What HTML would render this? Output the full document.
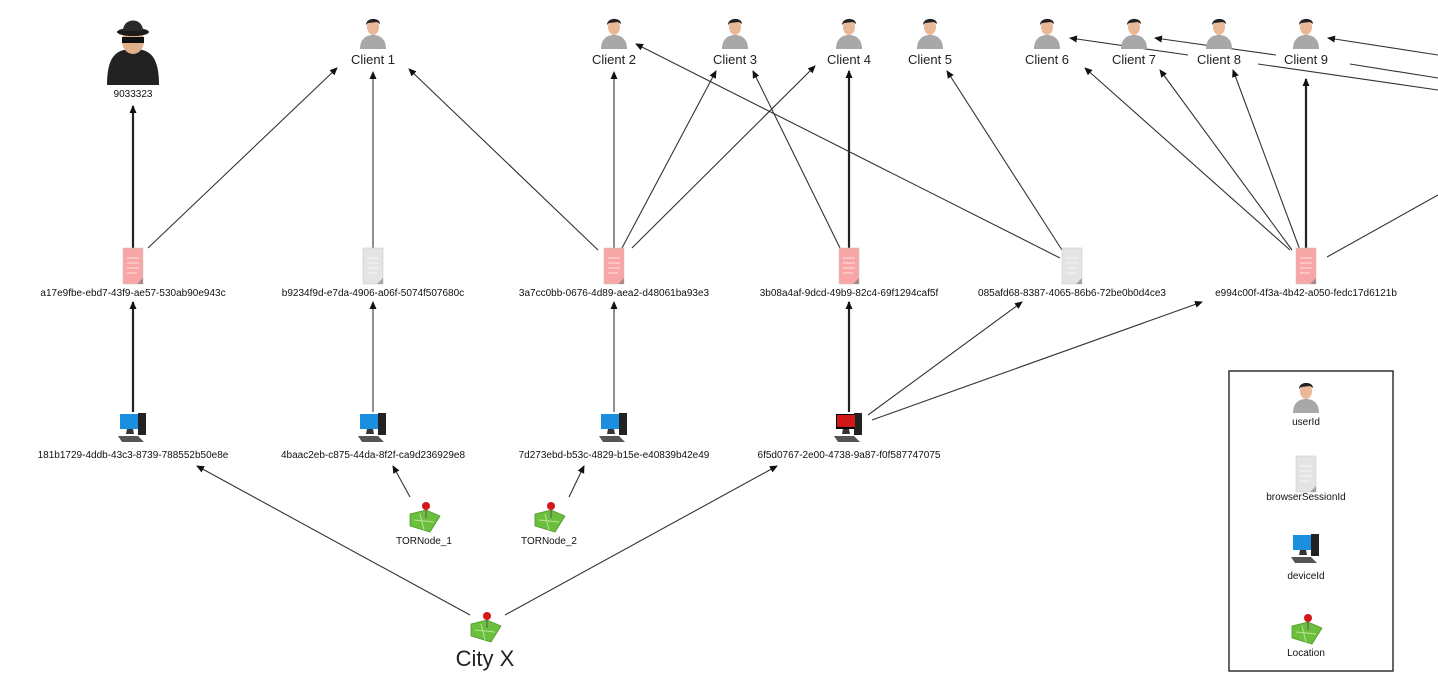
<!DOCTYPE html>
<html><head><meta charset="utf-8"><style>
html,body{margin:0;padding:0;background:#fff;}
svg{display:block;font-family:"Liberation Sans",sans-serif;}
.c{font-size:13px;fill:#222;text-anchor:middle;}
.s{font-size:10px;fill:#111;text-anchor:middle;}
.e{stroke:#333;stroke-width:1.1;fill:none;marker-end:url(#a);}
.t{stroke:#222;stroke-width:2.2;fill:none;marker-end:url(#a);}
.n{stroke:#333;stroke-width:1.1;fill:none;}
</style></head><body>
<svg width="1438" height="695" viewBox="0 0 1438 695">
<defs>
<marker id="a" markerWidth="8" markerHeight="8" refX="7" refY="4" orient="auto" markerUnits="userSpaceOnUse">
<path d="M0,0.5 L8,4 L0,7.5 z" fill="#111"/></marker>
<g id="p">
<path d="M-13,33 C-13,22 -6,19 0,19 C6,19 13,22 13,33 z" fill="#a8a8a8"/>
<ellipse cx="0" cy="11" rx="6" ry="8" fill="#e8b898"/>
<path d="M-7,9 C-7,1 7,1 7,8 L4,6 L-5,7 z" fill="#222"/>
</g>
<g id="d" transform="translate(-10,0)">
<rect x="0" y="0" width="20" height="36" fill="currentColor" stroke="#ccc" stroke-width="0.6"/>
<path d="M4,10h12M4,15h12M4,20h12M4,25h10" stroke="#fff" stroke-width="1" opacity=".7"/>
<path d="M14,36 L20,30 L20,36z" fill="#666" opacity=".5"/>
</g>
<g id="m">
<rect x="-10" y="0" width="20" height="15" fill="currentColor"/>
<rect x="-9" y="1" width="18" height="12" fill="#1a8fe0"/>
<rect x="8" y="-1" width="8" height="22" fill="#222"/>
<path d="M-3,15 L3,15 L4,20 L-4,20z" fill="#333"/>
<path d="M-12,22 L8,22 L14,28 L-8,28z" fill="#555"/>
</g>
<g id="l">
<path d="M-14,6 L2,2 L16,8 L6,24 L-14,18z" fill="#6cbf3c" stroke="#4a9a2a" stroke-width="0.8"/>
<path d="M-10,12 L10,14 M-4,6 L0,22" stroke="#b8e29a" stroke-width="1"/>
<circle cx="2" cy="-2" r="4" fill="#d21818"/>
<path d="M2,2 L2,10" stroke="#666" stroke-width="1.3"/>
</g>
</defs>

<!-- edges -->
<path class="t" d="M133,248 L133,106"/>
<path class="e" d="M148,248 L337,68"/>
<path class="e" d="M373,248 L373,72"/>
<path class="e" d="M598,250 L409,69"/>
<path class="e" d="M614,248 L614,72"/>
<path class="e" d="M622,248 L716,71"/>
<path class="e" d="M632,248 L815,66"/>
<path class="e" d="M840,248 L753,71"/>
<path class="t" d="M849,248 L849,71"/>
<path class="e" d="M1060,258 L636,44"/>
<path class="e" d="M1062,250 L947,71"/>
<path class="e" d="M1290,250 L1085,68"/>
<path class="e" d="M1292,250 L1160,70"/>
<path class="e" d="M1300,250 L1233,70"/>
<path class="t" d="M1306,250 L1306,79"/>
<path class="n" d="M1327,257 L1438,195"/>
<path class="e" d="M1188,55 L1070,38"/>
<path class="e" d="M1276,55 L1155,38"/>
<path class="e" d="M1438,55 L1328,38"/>
<path class="n" d="M1258,64 L1438,90"/>
<path class="n" d="M1350,64 L1438,78"/>
<path class="t" d="M133,412 L133,302"/>
<path class="e" d="M373,412 L373,302"/>
<path class="e" d="M614,412 L614,302"/>
<path class="t" d="M849,412 L849,302"/>
<path class="e" d="M868,415 L1022,302"/>
<path class="e" d="M872,420 L1202,302"/>
<path class="e" d="M410,497 L393,466"/>
<path class="e" d="M569,497 L584,466"/>
<path class="e" d="M470,615 L197,466"/>
<path class="e" d="M505,615 L777,466"/>

<!-- spy -->
<g transform="translate(133,15)">
<path d="M-26,70 C-26,40 -16,34 0,34 C16,34 26,40 26,70z" fill="#222"/>
<ellipse cx="0" cy="26" rx="11" ry="13" fill="#e3b08c"/>
<rect x="-11" y="22" width="22" height="6" fill="#111"/>
<ellipse cx="0" cy="17" rx="16" ry="4" fill="#1b1b1b"/>
<path d="M-10,16 C-10,2 10,2 10,16z" fill="#2a2a2a"/>
</g>
<text class="s" x="133" y="97">9033323</text>

<!-- clients -->
<use href="#p" x="373" y="16"/><text class="c" x="373" y="64">Client 1</text>
<use href="#p" x="614" y="16"/><text class="c" x="614" y="64">Client 2</text>
<use href="#p" x="735" y="16"/><text class="c" x="735" y="64">Client 3</text>
<use href="#p" x="849" y="16"/><text class="c" x="849" y="64">Client 4</text>
<use href="#p" x="930" y="16"/><text class="c" x="930" y="64">Client 5</text>
<use href="#p" x="1047" y="16"/><text class="c" x="1047" y="64">Client 6</text>
<use href="#p" x="1134" y="16"/><text class="c" x="1134" y="64">Client 7</text>
<use href="#p" x="1219" y="16"/><text class="c" x="1219" y="64">Client 8</text>
<use href="#p" x="1306" y="16"/><text class="c" x="1306" y="64">Client 9</text>

<!-- sessions -->
<use href="#d" x="133" y="248" style="color:#f7a5a5"/><text class="s" x="133" y="296">a17e9fbe-ebd7-43f9-ae57-530ab90e943c</text>
<use href="#d" x="373" y="248" style="color:#e4e4e4"/><text class="s" x="373" y="296">b9234f9d-e7da-4906-a06f-5074f507680c</text>
<use href="#d" x="614" y="248" style="color:#f7a5a5"/><text class="s" x="614" y="296">3a7cc0bb-0676-4d89-aea2-d48061ba93e3</text>
<use href="#d" x="849" y="248" style="color:#f7a5a5"/><text class="s" x="849" y="296">3b08a4af-9dcd-49b9-82c4-69f1294caf5f</text>
<use href="#d" x="1072" y="248" style="color:#e4e4e4"/><text class="s" x="1072" y="296">085afd68-8387-4065-86b6-72be0b0d4ce3</text>
<use href="#d" x="1306" y="248" style="color:#f7a5a5"/><text class="s" x="1306" y="296">e994c00f-4f3a-4b42-a050-fedc17d6121b</text>

<!-- devices -->
<use href="#m" x="130" y="414" style="color:#1a8fe0"/><text class="s" x="133" y="458">181b1729-4ddb-43c3-8739-788552b50e8e</text>
<use href="#m" x="370" y="414" style="color:#1a8fe0"/><text class="s" x="373" y="458">4baac2eb-c875-44da-8f2f-ca9d236929e8</text>
<use href="#m" x="611" y="414" style="color:#1a8fe0"/><text class="s" x="614" y="458">7d273ebd-b53c-4829-b15e-e40839b42e49</text>
<g transform="translate(846,414)"><use href="#m"/><rect x="-9" y="1" width="18" height="12" fill="#d01818"/></g>
<text class="s" x="849" y="458">6f5d0767-2e00-4738-9a87-f0f587747075</text>

<!-- locations -->
<use href="#l" x="424" y="508"/><text class="s" x="424" y="544">TORNode_1</text>
<use href="#l" x="549" y="508"/><text class="s" x="549" y="544">TORNode_2</text>
<use href="#l" x="485" y="618"/><text x="485" y="666" style="font-size:22px;text-anchor:middle;fill:#222">City X</text>

<!-- legend -->
<rect x="1229" y="371" width="164" height="300" fill="#fff" stroke="#333" stroke-width="1.5"/>
<use href="#p" x="1306" y="380"/><text class="s" x="1306" y="425">userId</text>
<use href="#d" x="1306" y="456" style="color:#e4e4e4"/><text class="s" x="1306" y="500">browserSessionId</text>
<use href="#m" x="1303" y="535" style="color:#1a8fe0"/><text class="s" x="1306" y="579">deviceId</text>
<use href="#l" x="1306" y="620"/><text class="s" x="1306" y="656">Location</text>
</svg>
</body></html>
